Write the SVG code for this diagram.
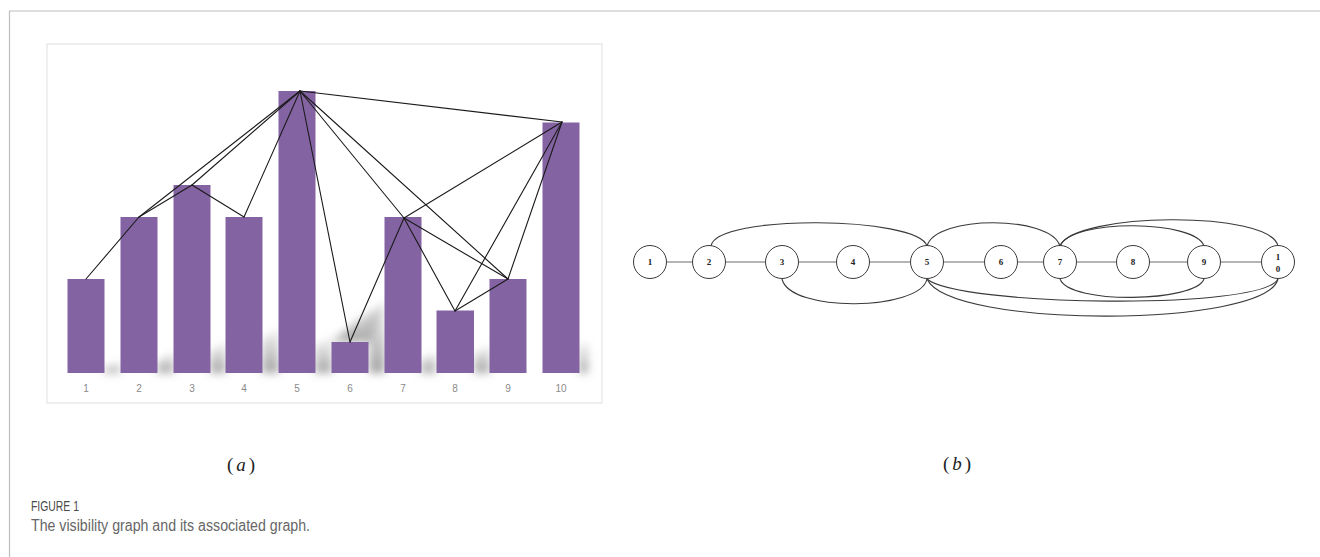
<svg xmlns="http://www.w3.org/2000/svg" width="1320" height="557" viewBox="0 0 1320 557">
  <style>
    .frame { fill: none; stroke: #bdbdbd; stroke-width: 1.2; }
    .bar { fill: #8463a3; }
    .axis-label { font-family: "Liberation Sans", Arial, sans-serif; font-size: 10px; fill: #8a8a8a; text-anchor: middle; }
    .vis { stroke: #1a1a1a; stroke-width: 1.1; fill: none; stroke-linecap: round; }
    .node circle { fill: #ffffff; stroke: #3a3a3a; stroke-width: 1; }
    .node text { font-family: "Liberation Serif", "Times New Roman", serif; font-size: 9px; font-weight: bold; fill: #222; text-anchor: middle; }
    .link { stroke: #6a6a6a; stroke-width: 1; fill: none; }
    .arc { stroke: #3a3a3a; stroke-width: 1.1; fill: none; }
    .sub { font-family: "Liberation Serif", "Times New Roman", serif; font-size: 19px; fill: #222; }
    .fig { font-family: "Liberation Sans", Arial, sans-serif; font-size: 14px; fill: #4a4a4a; }
    .cap { font-family: "Liberation Sans", Arial, sans-serif; font-size: 16px; fill: #666; }
  </style>
  <defs>
    <filter id="soft" x="-40%" y="-40%" width="180%" height="180%">
      <feGaussianBlur stdDeviation="4.5"/>
    </filter>
    <linearGradient id="fade" x1="0" y1="1" x2="0" y2="0">
      <stop offset="0" stop-color="#7a7a7a" stop-opacity="0.7"/>
      <stop offset="1" stop-color="#9a9a9a" stop-opacity="0.15"/>
    </linearGradient>
  </defs>

  <!-- page frame -->
  <path class="frame" d="M9.5 557 V11 H1320"/>

  <!-- chart (a): plot area -->
  <rect x="47" y="44" width="555" height="359" fill="#ffffff" stroke="#e4e4e4" stroke-width="1.2"/>

  <!-- soft cast shadows behind the bars -->
  <g id="shadows" fill="url(#fade)" filter="url(#soft)">
    <polygon points="104,373 120,373 120,362 104,368"/>
    <polygon points="157,373 174,373 174,352 157,362"/>
    <polygon points="210,373 226,373 226,342 210,352"/>
    <polygon points="262,373 279,373 279,328 262,340"/>
    <polygon points="315,373 332,373 332,338 315,345"/>
    <polygon points="332,342 369,342 384,302 360,318"/>
    <polygon points="369,373 385,373 385,300 369,318"/>
    <polygon points="421,373 436,373 436,352 421,360"/>
    <polygon points="474,373 490,373 490,345 474,355"/>
    <polygon points="579,373 588,373 588,342 579,345"/>
  </g>

  <!-- bars -->
  <g id="bars">
    <rect id="bar-1" class="bar" x="67.5" y="279" width="37" height="94"/>
    <rect id="bar-2" class="bar" x="120.5" y="217" width="37" height="156"/>
    <rect id="bar-3" class="bar" x="173.5" y="185" width="37" height="188"/>
    <rect id="bar-4" class="bar" x="225.5" y="217" width="37" height="156"/>
    <rect id="bar-5" class="bar" x="278.5" y="91" width="37" height="282"/>
    <rect id="bar-6" class="bar" x="331.5" y="342" width="37" height="31"/>
    <rect id="bar-7" class="bar" x="384.5" y="217" width="37" height="156"/>
    <rect id="bar-8" class="bar" x="436.5" y="310.5" width="37.5" height="62.5"/>
    <rect id="bar-9" class="bar" x="489.5" y="279" width="37" height="94"/>
    <rect id="bar-10" class="bar" x="542.5" y="122.5" width="37" height="250.5"/>
  </g>

  <!-- bar axis labels -->
  <g id="axis-labels">
    <text class="axis-label" x="86" y="392">1</text>
    <text class="axis-label" x="139" y="392">2</text>
    <text class="axis-label" x="192" y="392">3</text>
    <text class="axis-label" x="244" y="392">4</text>
    <text class="axis-label" x="297" y="392">5</text>
    <text class="axis-label" x="350" y="392">6</text>
    <text class="axis-label" x="403" y="392">7</text>
    <text class="axis-label" x="455" y="392">8</text>
    <text class="axis-label" x="508" y="392">9</text>
    <text class="axis-label" x="561" y="392">10</text>
  </g>

  <!-- visibility links between bar tops -->
  <g id="visibility-links">
    <line class="vis" x1="86" y1="279" x2="139" y2="217"/>
    <line class="vis" x1="139" y1="217" x2="192" y2="185"/>
    <line class="vis" x1="192" y1="185" x2="244" y2="217"/>
    <line class="vis" x1="244" y1="217" x2="300" y2="91"/>
    <line class="vis" x1="139" y1="217" x2="300" y2="91"/>
    <line class="vis" x1="192" y1="185" x2="300" y2="91"/>
    <line class="vis" x1="300" y1="91" x2="350" y2="342"/>
    <line class="vis" x1="350" y1="342" x2="404" y2="218"/>
    <line class="vis" x1="300" y1="91" x2="404" y2="218"/>
    <line class="vis" x1="300" y1="91" x2="508" y2="279"/>
    <line class="vis" x1="300" y1="91" x2="562" y2="122"/>
    <line class="vis" x1="404" y1="218" x2="455" y2="311"/>
    <line class="vis" x1="404" y1="218" x2="508" y2="279"/>
    <line class="vis" x1="404" y1="218" x2="562" y2="122"/>
    <line class="vis" x1="455" y1="311" x2="508" y2="279"/>
    <line class="vis" x1="455" y1="311" x2="562" y2="122"/>
    <line class="vis" x1="508" y1="279" x2="562" y2="122"/>
  </g>

  <!-- graph (b): connectors -->
  <g id="connectors">
    <line class="link" x1="666.5" y1="262" x2="692.5" y2="262"/>
    <line class="link" x1="725.5" y1="262" x2="765.5" y2="262"/>
    <line class="link" x1="798.5" y1="262" x2="836.5" y2="262"/>
    <line class="link" x1="869.5" y1="262" x2="910.5" y2="262"/>
    <line class="link" x1="943.5" y1="262" x2="984.5" y2="262"/>
    <line class="link" x1="1017.5" y1="262" x2="1043.5" y2="262"/>
    <line class="link" x1="1076.5" y1="262" x2="1116.5" y2="262"/>
    <line class="link" x1="1149.5" y1="262" x2="1187.5" y2="262"/>
    <line class="link" x1="1220.5" y1="262" x2="1261.5" y2="262"/>
    <!-- arcs above the row -->
    <path class="arc" d="M711 246 C716 214 918 216 927 246"/>
    <path class="arc" d="M927 246 C936 215 1050 215 1060 246"/>
    <path class="arc" d="M1060 246 C1072 218 1196 220 1204 246"/>
    <path class="arc" d="M1060 246 C1074 212 1270 210 1278 246"/>
    <!-- arcs below the row -->
    <path class="arc" d="M782 279 C790 313 920 311 927 279"/>
    <path class="arc" d="M1060 279 C1070 305 1196 302 1204 279"/>
    <path class="arc" d="M927 279 C958 306 1262 311 1278 279"/>
    <path class="arc" d="M927 279 C950 329 1266 328 1278 279"/>
  </g>

  <!-- graph (b): nodes -->
  <g id="node-1" class="node"><circle cx="650" cy="262" r="16.5"/><text x="650" y="265">1</text></g>
  <g id="node-2" class="node"><circle cx="709" cy="262" r="16.5"/><text x="709" y="265">2</text></g>
  <g id="node-3" class="node"><circle cx="782" cy="262" r="16.5"/><text x="782" y="265">3</text></g>
  <g id="node-4" class="node"><circle cx="853" cy="262" r="16.5"/><text x="853" y="265">4</text></g>
  <g id="node-5" class="node"><circle cx="927" cy="262" r="16.5"/><text x="927" y="265">5</text></g>
  <g id="node-6" class="node"><circle cx="1001" cy="262" r="16.5"/><text x="1001" y="265">6</text></g>
  <g id="node-7" class="node"><circle cx="1060" cy="262" r="16.5"/><text x="1060" y="265">7</text></g>
  <g id="node-8" class="node"><circle cx="1133" cy="262" r="16.5"/><text x="1133" y="265">8</text></g>
  <g id="node-9" class="node"><circle cx="1204" cy="262" r="16.5"/><text x="1204" y="265">9</text></g>
  <g id="node-10" class="node"><circle cx="1278" cy="262" r="16.5"/><text x="1278" y="260">1</text><text x="1278" y="272">0</text></g>

  <!-- panel labels -->
  <text class="sub" x="241" y="471" text-anchor="middle">(<tspan font-style="italic" dx="3">a</tspan><tspan dx="3">)</tspan></text>
  <text class="sub" x="957" y="470" text-anchor="middle">(<tspan font-style="italic" dx="3">b</tspan><tspan dx="3">)</tspan></text>

  <!-- figure caption -->
  <text class="fig" x="31" y="511" textLength="48" lengthAdjust="spacingAndGlyphs">FIGURE 1</text>
  <text class="cap" x="31" y="531" textLength="279" lengthAdjust="spacingAndGlyphs">The visibility graph and its associated graph.</text>
</svg>
